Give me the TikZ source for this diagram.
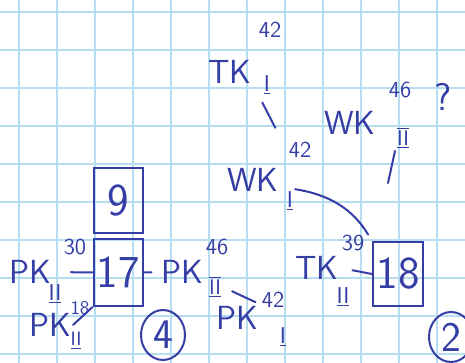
\documentclass[tikz,border=0pt]{standalone}
\usetikzlibrary{shapes.geometric}
\definecolor{ink}{RGB}{52,62,165}
\definecolor{gridc}{RGB}{182,222,240}
\begin{document}
\begin{tikzpicture}[x=0.2mm, y=-0.2mm,
    pen/.style={draw=ink, line width=0.4mm, line cap=round},
    gridline/.style={draw=gridc, line width=0.35mm},
    kname/.style={text=ink, font=\fontsize{19}{20}\sffamily\selectfont, inner sep=1pt},
    knum/.style={text=ink, font=\fontsize{13}{14}\sffamily\selectfont, inner sep=1pt},
    fbox/.style={pen, minimum width=9.8mm, minimum height=13mm, inner sep=0pt, text=ink, font=\fontsize{26}{28}\sffamily\selectfont},
    ring/.style={pen, ellipse, minimum width=8.8mm, minimum height=10mm, inner sep=0pt, text=ink, font=\fontsize{24}{26}\sffamily\selectfont}
]
% paper
\useasboundingbox[fill=white] (0,0) rectangle (465,363);
\foreach \gx in {19,57,...,437} \draw[gridline] (\gx,0) -- (\gx,363);
\foreach \gy in {12,50,...,354} \draw[gridline] (0,\gy) -- (465,\gy);

% boxes
\node[fbox] (b9) at (118.5,201) {9};
\node[fbox, minimum height=13.4mm] (b17) at (118,272.5) {17};
\node[fbox, minimum width=10mm, minimum height=12.8mm] (b18) at (398,274) {18};
\node[ring] (c4) at (163,335) {4};
\node[ring] (c2) at (451,337) {2};
\node[kname, font=\fontsize{22}{24}\sffamily\selectfont] (q) at (443,97) {?};

% labels
\node[kname] (pkl) at (30,272) {PK};
\node[knum] (pkls) at (75,247) {30};
\node[knum] (pklu) at (55,294) {\underline{II}};
\node[kname] (pkb) at (50,325) {PK};
\node[knum, font=\fontsize{11}{12}\sffamily\selectfont] (pkbs) at (80,308) {18};
\node[knum, font=\fontsize{11}{12}\sffamily\selectfont] (pkbu) at (76,341) {\underline{II}};
\node[kname] (pkr) at (182,272) {PK};
\node[knum] (pkrs) at (217,247) {46};
\node[knum] (pkru) at (215,287) {$\overline{\underline{\mathsf{II}}}$};
\node[kname] (pkd) at (237,318) {PK};
\node[knum] (pkds) at (273,300) {42};
\node[knum] (pkdu) at (283,337) {\underline{I}};
\node[kname] (tkt) at (230,72) {TK};
\node[knum] (tkts) at (270,30) {42};
\node[knum] (tktu) at (267,85) {\underline{I}};
\node[kname] (wkm) at (253,180) {WK};
\node[knum] (wkms) at (300,150) {42};
\node[knum] (wkmu) at (290,201) {\underline{I}};
\node[kname] (wkt) at (350,123) {WK};
\node[knum] (wkts) at (400,90) {46};
\node[knum] (wktu) at (403,138) {$\overline{\underline{\mathsf{II}}}$};
\node[kname] (tk18) at (317,268) {TK};
\node[knum] (tk18s) at (353,243) {39};
\node[knum] (tk18u) at (343,297) {\underline{II}};
\coordinate (wkend) at (388,183);

% connectors
\draw[pen, shorten <=3.6mm] (pkl.east) -- (b17.west);
\draw[pen] (pkb.east) -- (b17.south west);
\draw[pen, shorten >=1.5mm] (b17.east) -- (pkr.west);
\draw[pen, shorten <=2mm, shorten >=1mm] (pkru.east) -- (pkd.north east);
\draw[pen, shorten <=3.8mm, shorten >=5mm] (tkt.south east) -- (wkms.west);
\draw[pen] (wktu.south west) -- (wkend);
\draw[pen, shorten >=1.5mm] (wkmu.north east) to[bend left=25] (b18.north west);
\draw[pen, shorten <=2.4mm] (tk18.east) -- (b18.west);
\end{tikzpicture}
\end{document}
